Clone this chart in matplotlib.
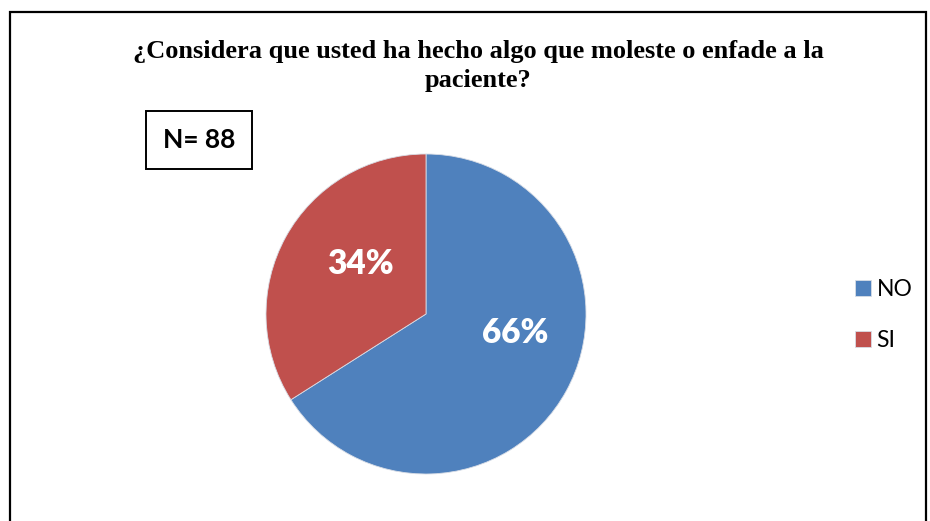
import matplotlib.pyplot as plt
from matplotlib.patches import Rectangle

# Survey answers
labels = ['NO', 'SI']
percentages = [66, 34]
colors = ['#4F81BD', '#C0504D']
sample_size = 88

fig = plt.figure(figsize=(9.3, 5.21), dpi=100)

# Outer chart frame (bottom edge runs off the canvas)
fig.patches.append(Rectangle((10 / 930, -0.05), 916 / 930, 1.05 - 12 / 521,
                             transform=fig.transFigure, fill=False,
                             edgecolor='black', linewidth=1.6))

fig.text(478 / 930, 1 - 66 / 521,
         '¿Considera que usted ha hecho algo que moleste o enfade a la\npaciente?',
         ha='center', va='center', fontsize=19, fontweight='bold',
         family='Liberation Serif', linespacing=1.35)

# Pie: centre (426, 314), radius 160 px
r = 160
ax = fig.add_axes([(426 - r) / 930, (521 - 314 - r) / 521, 2 * r / 930, 2 * r / 521])
wedges, _, autotexts = ax.pie(percentages, colors=colors, startangle=90,
                              counterclock=False, radius=1,
                              autopct=lambda p: f'{p:.0f}%', pctdistance=0.62,
                              wedgeprops=dict(edgecolor='#d8dde6', linewidth=0.6),
                              textprops=dict(color='white', fontsize=24,
                                             fontweight='heavy', family='Lato'))
autotexts[0].set_position((0.56, -0.12))
autotexts[1].set_position((-0.41, 0.31))
ax.set_xlim(-1, 1)
ax.set_ylim(-1, 1)
ax.set_aspect('auto')
ax.axis('off')

# Sample size box
fig.text(199 / 930, 1 - 140 / 521, f'N= {sample_size}', ha='center', va='center',
         fontsize=19, fontweight='bold', family='Lato',
         bbox=dict(boxstyle='square,pad=0.65', facecolor='white',
                   edgecolor='black', linewidth=1.4))

fig.legend(wedges, labels, loc='center left',
           bbox_to_anchor=(834 / 930, 1 - 315 / 521), frameon=False,
           prop=dict(family='Lato', size=16.5), handlelength=0.7,
           handleheight=0.7, handletextpad=0.25, labelspacing=1.3)

fig.savefig('out.png', dpi=100)
